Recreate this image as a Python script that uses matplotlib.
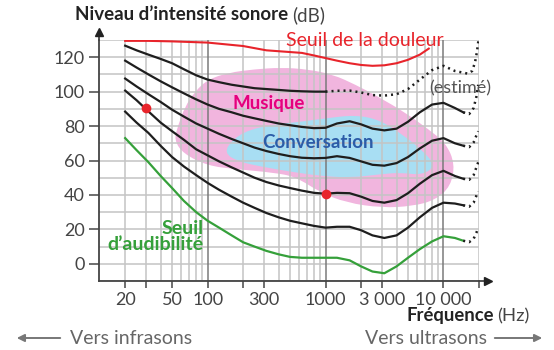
import matplotlib
matplotlib.use('Agg')
import matplotlib.pyplot as plt
from matplotlib.path import Path
from matplotlib.patches import PathPatch, FancyArrowPatch
from matplotlib.ticker import NullLocator
import numpy as np

plt.rcParams['font.family'] = ['Lato', 'DejaVu Sans']

# frequencies (Hz) at which the contours were read
freqs = [20, 25, 31.5, 40, 50, 63, 80, 100, 125, 160, 200, 250, 315, 400, 500,
         630, 800, 1000, 1250, 1600, 2000, 2500, 3150, 4000, 5000, 6300, 8000,
         10000, 12500, 14700]

# equal-loudness contours (dB), solid part
phon_100 = [126.7, 124, 121.5, 119, 116.5, 113, 109.5, 107, 105.5, 104, 103, 102,
            101.5, 101, 100.5, 100.2, 100, 100]
phon_80 = [118, 114, 110, 106, 102.5, 99, 95.5, 92.5, 90, 88, 86, 84.5, 83, 81.5,
           80.5, 79.5, 78.8, 79, 81.5, 82.8, 81, 78.5, 77.5, 78.5, 82.5, 88, 92.5,
           93.5, 90.5, 88]
phon_60 = [107.6, 103, 98.5, 94, 89.5, 85.5, 81.5, 78.5, 75.5, 72.5, 70, 67.5, 65.5,
           63.8, 62.5, 61.6, 61.3, 61.5, 62.5, 61.5, 59.5, 57.5, 57, 58.5, 62, 67,
           71.5, 73, 70, 68.6]
phon_40 = [100.6, 95, 88.5, 82, 77, 72, 66.5, 63, 59.5, 56, 53, 50, 47.5, 45.5, 44,
           42.5, 41.2, 40.7, 41.2, 41, 39, 36.5, 35.5, 37, 41, 46.5, 51.5, 54, 51, 49.4]
phon_20 = [88.4, 82, 76, 68.5, 62, 56.5, 51.5, 47, 43, 39, 35.5, 32.5, 29.5, 27, 25,
           23.5, 22, 21, 21.5, 21.5, 19.5, 16.5, 15, 16.5, 21, 27, 32.5, 35.5, 35, 34]
audibility = [73, 66, 59, 51, 44, 36.5, 30, 25, 21, 16.5, 12.5, 10, 7.5, 5.5, 4, 3.5,
              3.5, 3.5, 3.5, 2, -1.5, -4.5, -5.5, -1.5, 3.5, 8.5, 13, 16, 15, 13.4]

# estimated (dotted) parts
est100_f = [1000, 1250, 1600, 2000, 2500, 3150, 4000, 5000, 6300, 8000, 10000,
            12500, 16000, 17500, 18500, 19200, 19800]
est100_db = [100, 100.5, 100.6, 99.5, 98, 97.7, 98.5, 101.5, 107, 112.5, 115, 112,
             110.5, 112, 117, 123, 130]
tail_f = [14700, 16500, 18000, 19000, 19700]
tail80 = [88, 87, 90.5, 97, 104]
tail60 = [68.6, 67.8, 70.5, 74.5, 77]
tail40 = [49.4, 48.8, 51.5, 56, 59]
tail20 = [34, 33.2, 35.5, 39.5, 42]
tail0 = [13.4, 12.6, 14.5, 18, 21]

# pain threshold
pain_f = [20, 31.5, 50, 100, 200, 315, 500, 630, 800, 1000, 1250, 1600, 2000, 2500,
          3150, 4000, 5000, 6300, 7500]
pain_db = [129.5, 129.5, 129.2, 128.5, 126.5, 124, 123, 122.5, 121, 119.5, 118,
           116.5, 115.5, 115, 115.3, 116.5, 118.5, 121.5, 125]

# zones (outline control points)
music_f = [52, 56, 64, 78, 100, 150, 250, 420, 700, 1150, 1800, 2800, 4700, 7500,
           10500, 12500, 11500, 8500, 5500, 3000, 1500, 900, 560, 360, 170, 100, 62]
music_db = [72, 80, 91, 100, 107, 111, 113, 114, 113, 110, 104, 97, 88, 78,
            70, 58, 45, 37, 33.5, 32.5, 35.5, 41.5, 50.5, 53, 55, 57, 64]
conv_f = [138, 162, 225, 377, 613, 1000, 1800, 2900, 4500, 6600, 8600, 6600, 4300,
          2900, 1630, 907, 505, 281, 180]
conv_db = [64.5, 72, 78, 81, 82.5, 84.5, 86.5, 83.5, 75, 66, 57, 51.5, 53,
           52, 50, 51, 53.5, 56.5, 59.5]

dots_f = [30, 1000]
dots_db = [90.7, 40.7]

xtick_pos = [20, 30, 50, 100, 200, 300, 1000, 2000, 3000, 10000, 20000]
xtick_lab = ['20', '', '50', '100', '', '300', '1000', '', '3 000', '10 000', '']
ytick_pos = [0, 20, 40, 60, 80, 100, 120]

RED = '#e8242b'
GREEN = '#35a03a'
BLACK = '#1e1e1e'
GRAY = '#555555'


def blob(fs, dbs):
    # smooth closed outline: points are control points, midpoints lie on the curve
    lx = np.log10(fs)
    y = np.array(dbs, dtype=float)
    n = len(lx)
    mids = [((lx[i] + lx[(i + 1) % n]) / 2, (y[i] + y[(i + 1) % n]) / 2) for i in range(n)]
    verts = [mids[-1]]
    codes = [Path.MOVETO]
    for i in range(n):
        verts += [(lx[i], y[i]), mids[i]]
        codes += [Path.CURVE3, Path.CURVE3]
    verts = [(10 ** a, b) for a, b in verts]
    return Path(verts, codes)


fig = plt.figure(figsize=(5.54, 3.5), dpi=100)
ax = fig.add_axes([99 / 554, 69 / 350, 380 / 554, 241 / 350])
ax.set_xscale('log')
ax.set_xlim(12, 20000)
ax.set_ylim(-10, 130)

ax.add_patch(PathPatch(blob(music_f, music_db), facecolor='#f1b5de', edgecolor='none', zorder=0.5))
ax.add_patch(PathPatch(blob(conv_f, conv_db), facecolor='#a8def3', edgecolor='none', zorder=0.6))

# grid
for y in range(-10, 131, 10):
    ax.axhline(y, color='#c4c4c4', lw=1.1, zorder=1)
for dec in [10, 100, 1000, 10000]:
    for m in range(2, 10):
        f = m * dec
        if 20 <= f <= 20000:
            ax.axvline(f, color='#c4c4c4', lw=1.1, zorder=1)
for f in [100, 1000, 10000]:
    ax.axvline(f, color='#7a7a7a', lw=1.1, zorder=1.1)

# curves
ax.plot(pain_f, pain_db, color=RED, lw=1.5, zorder=3)
n100 = len(phon_100)
ax.plot(freqs[:n100], phon_100, color=BLACK, lw=1.6, zorder=3)
ax.plot(est100_f, est100_db, color=BLACK, lw=1.8, ls=(0, (0.8, 1.6)), zorder=3)
for vals, tail in [(phon_80, tail80), (phon_60, tail60), (phon_40, tail40), (phon_20, tail20)]:
    ax.plot(freqs, vals, color=BLACK, lw=1.6, zorder=3)
    ax.plot(tail_f, tail, color=BLACK, lw=1.8, ls=(0, (0.8, 1.6)), zorder=3)
ax.plot(freqs, audibility, color=GREEN, lw=1.6, zorder=3)
ax.plot(tail_f, tail0, color=BLACK, lw=1.8, ls=(0, (0.8, 1.6)), zorder=3)
ax.plot(dots_f, dots_db, 'o', color=RED, ms=7, mec='none', zorder=4)

# labels inside the chart
ax.text(330, 93, 'Musique', color='#e5007d', fontsize=13.5, fontweight='bold', ha='center', va='center', zorder=5)
ax.text(860, 70.5, 'Conversation', color='#2c5ca8', fontsize=13.5, fontweight='bold', ha='center', va='center', zorder=5)
ax.text(2140, 129.7, 'Seuil de la douleur', color=RED, fontsize=14, ha='center', va='center', zorder=5)
ax.text(13900, 101.7, '(estimé)', color=GRAY, fontsize=13, ha='center', va='center', zorder=5)
ax.text(93, 20.3, 'Seuil', color=GREEN, fontsize=14, fontweight='bold', ha='right', va='center', zorder=5)
ax.text(93, 11, 'd\u2019audibilité', color=GREEN, fontsize=14, fontweight='bold', ha='right', va='center', zorder=5)

# axes
for s in ['top', 'right']:
    ax.spines[s].set_visible(False)
for s in ['left', 'bottom']:
    ax.spines[s].set_color('#444444')
    ax.spines[s].set_linewidth(1.3)
    ax.spines[s].set_zorder(2)
ax.set_xticks(xtick_pos)
ax.set_xticklabels(xtick_lab)
ax.xaxis.set_minor_locator(NullLocator())
ax.set_yticks(ytick_pos)
ax.tick_params(axis='x', length=5, width=1.2, color='#555555', labelsize=13, labelcolor='#444444', pad=3)
ax.tick_params(axis='y', length=7, width=1.2, color='#555555', labelsize=13, labelcolor='#444444', pad=3)

ax.plot([1, 1.024], [0, 0], transform=ax.transAxes, color='#444444', lw=1.3, clip_on=False)
ax.plot([1.024], [0], '>', transform=ax.transAxes, color='#222222', ms=6, clip_on=False)
ax.plot([0, 0], [1, 1.035], transform=ax.transAxes, color='#444444', lw=1.3, clip_on=False)
ax.plot([0], [1.035], '^', transform=ax.transAxes, color='#222222', ms=6, clip_on=False)

# texts outside the chart, bold + regular parts
renderer = fig.canvas.get_renderer()
W = fig.bbox.width

t = fig.text(75 / 554, 1 - 15 / 350, 'Niveau d\u2019intensité sonore', fontsize=13.5,
             fontweight='bold', color='#222222', ha='left', va='center')
bb = t.get_window_extent(renderer)
fig.text((bb.x1 + 4) / W, 1 - 15 / 350, '(dB)', fontsize=13.5, color='#444444', ha='left', va='center')

t = fig.text(530 / 554, 1 - 316 / 350, '(Hz)', fontsize=13.3, color='#444444', ha='right', va='center')
bb = t.get_window_extent(renderer)
fig.text((bb.x0 - 4) / W, 1 - 316 / 350, 'Fréquence', fontsize=13.3, fontweight='bold',
         color='#222222', ha='right', va='center')

fig.text(70 / 554, 1 - 338 / 350, 'Vers infrasons', fontsize=14, color='#666666', ha='left', va='center')
fig.text(487 / 554, 1 - 338 / 350, 'Vers ultrasons', fontsize=14, color='#666666', ha='right', va='center')
fig.add_artist(FancyArrowPatch((63 / 554, 1 - 338 / 350), (14 / 554, 1 - 338 / 350),
               transform=fig.transFigure, arrowstyle='-|>', mutation_scale=11, color='#777777', lw=1.4))
fig.add_artist(FancyArrowPatch((492 / 554, 1 - 338 / 350), (545 / 554, 1 - 338 / 350),
               transform=fig.transFigure, arrowstyle='-|>', mutation_scale=11, color='#777777', lw=1.4))

fig.savefig('out.png', dpi=100)
